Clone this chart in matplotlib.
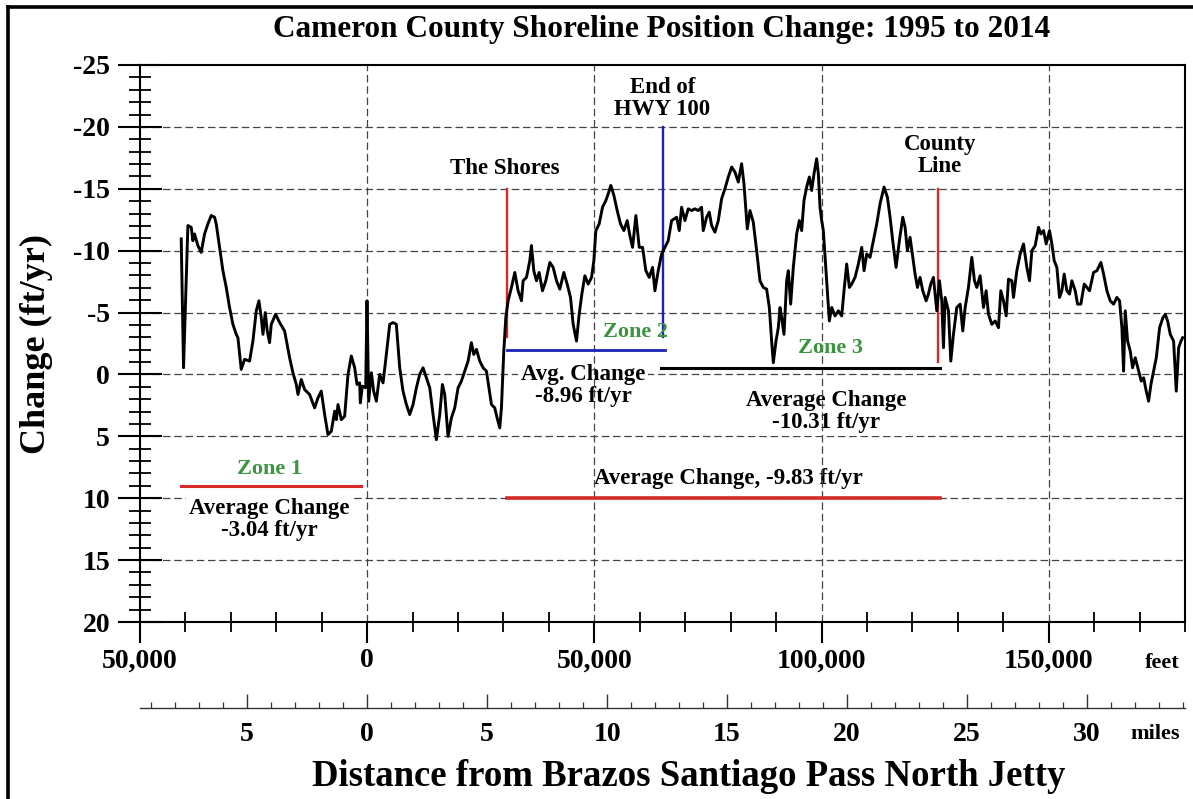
import matplotlib.pyplot as plt
from matplotlib.lines import Line2D
from matplotlib.ticker import FixedLocator, FuncFormatter, MultipleLocator

plt.rcParams["font.family"] = ["Liberation Serif", "DejaVu Serif"]
plt.rcParams["font.weight"] = "bold"
plt.rcParams["axes.unicode_minus"] = False

FT_PER_MILE = 5280

# shoreline change rate along the coast, distance from the jetty in feet
dist_ft = [
    -40930, -40420, -39460, -38730, -38360, -38000, -37260, -36530, -35790, -35060,
    -34320, -33590, -33220, -32490, -31750, -31020, -30290, -29550, -28820, -28450,
    -27720, -26980, -25880, -25150, -24410, -23830, -23310, -22940, -22430, -21990,
    -21480, -21110, -20150, -19270, -18170, -17070, -16340, -15600, -15230, -14500,
    -13770, -12670, -11560, -10830, -10100, -9360, -8630, -7890, -7160, -6790,
    -6420, -5690, -4960, -4220, -3490, -2750, -2240, -1650, -1510, -1070,
    -330, -40, 330, 920, 1430, 2020, 2750, 3490, 4220, 4960,
    5690, 6420, 7160, 7890, 8630, 9360, 10100, 10830, 11560, 12300,
    13030, 13770, 14500, 15230, 15970, 16560, 17070, 17800, 18540, 19270,
    20010, 20740, 21480, 22210, 22940, 23460, 24050, 24780, 25510, 26250,
    27350, 28080, 28600, 29180, 29550, 30070, 30510, 31020, 31750, 32490,
    33220, 33960, 34320, 35060, 35790, 36160, 36670, 37260, 37850, 38580,
    39320, 40200, 40930, 41670, 42400, 43280, 44020, 44750, 45340, 46070,
    46660, 47250, 47910, 48640, 49380, 49890, 50330, 51060, 51800, 52530,
    53050, 53630, 54300, 55030, 55760, 56500, 57230, 57820, 58410, 59140,
    59880, 60610, 61340, 62080, 62810, 63330, 64060, 64800, 65530, 66260,
    67000, 68100, 68690, 69200, 69930, 70670, 71400, 72140, 72870, 73600,
    73970, 74710, 75290, 75810, 76540, 77280, 78010, 78740, 79480, 80210,
    80950, 81680, 82410, 82930, 83660, 84250, 84980, 85720, 86450, 87190,
    87920, 88510, 89020, 89390, 89980, 90490, 90860, 91230, 91740, 92330,
    92690, 93210, 93790, 94530, 95120, 95630, 96140, 96730, 97320, 97830,
    98350, 98930, 99300, 99670, 100040, 100400, 100840, 101280, 101720, 102240,
    102970, 103710, 104440, 104950, 105540, 106130, 106640, 107380, 108110, 108850,
    109360, 109950, 110680, 111410, 112150, 112880, 113760, 114500, 115090, 115670,
    116410, 117140, 117880, 118390, 118900, 119490, 120080, 120590, 121110, 121690,
    122280, 123020, 123530, 124040, 124630, 125370, 125950, 126470, 126840, 127200,
    127940, 128450, 129040, 129770, 130510, 131090, 131610, 132340, 133080, 133660,
    134180, 134910, 135650, 136230, 136750, 137480, 138220, 138950, 139460, 140050,
    140640, 141150, 141890, 142250, 142990, 143720, 144460, 145190, 145780, 146290,
    147030, 147760, 148270, 148860, 149450, 150180, 150700, 151210, 151800, 152380,
    152900, 153410, 154000, 154590, 155100, 155840, 156350, 157080, 157820, 158410,
    158990, 159870, 160610, 161490, 162080, 162810, 163540, 164280, 165010, 165600,
    166110, 166480, 166850, 167360, 167950, 168460, 169050, 169790, 170370, 170890,
    171470, 171990, 172500, 173090, 173680, 174410, 175140, 175660, 176170, 176760,
    177490, 178080, 178600, 179110, 179480,
]
change_ftyr = [
    -10.95, -0.54, -12.03, -11.89, -10.81, -11.35, -10.41, -9.86, -11.35, -12.16,
    -12.84, -12.70, -12.16, -10.27, -8.38, -7.03, -5.41, -4.05, -3.24, -2.97,
    -0.41, -1.22, -1.08, -2.70, -5.14, -5.95, -4.59, -3.24, -5.00, -3.51,
    -2.57, -4.05, -4.86, -4.19, -3.51, -1.35, -0.14, 0.81, 1.62, 0.41,
    1.22, 1.62, 2.70, 1.89, 1.35, 3.24, 4.86, 4.59, 2.97, 3.65,
    2.43, 3.65, 3.38, 0.00, -1.49, -0.54, 0.81, 0.68, 2.30, 0.95,
    1.08, -5.95, 2.16, -0.14, 1.35, 2.16, 0.00, 0.68, -1.62, -4.05,
    -4.19, -4.05, -0.54, 1.35, 2.43, 3.24, 2.43, 1.08, 0.00, -0.54,
    0.27, 1.08, 3.24, 5.27, 3.24, 0.81, 1.62, 5.00, 3.51, 2.70,
    1.08, 0.54, -0.27, -1.08, -2.57, -1.62, -2.03, -1.08, -0.54, -0.27,
    2.43, 2.70, 3.51, 4.32, 2.70, -1.89, -4.59, -5.95, -7.03, -8.24,
    -6.76, -5.95, -7.57, -7.84, -9.19, -10.41, -8.38, -7.57, -8.24, -6.76,
    -7.57, -9.05, -8.65, -7.57, -6.89, -8.24, -7.30, -6.22, -4.05, -2.70,
    -4.86, -6.49, -7.97, -7.30, -7.84, -9.19, -11.62, -12.16, -13.51, -14.05,
    -14.59, -15.27, -14.46, -13.24, -12.16, -11.62, -12.43, -11.22, -10.27, -12.84,
    -10.27, -10.27, -8.38, -7.84, -8.65, -6.76, -8.38, -9.73, -10.27, -10.81,
    -12.43, -12.70, -11.62, -13.51, -12.43, -13.38, -13.24, -13.38, -13.24, -13.51,
    -11.62, -12.70, -13.11, -12.03, -11.49, -12.43, -14.19, -15.00, -15.95, -16.76,
    -16.35, -15.54, -17.03, -15.41, -11.76, -13.24, -12.30, -10.00, -7.57, -7.03,
    -6.89, -5.41, -2.70, -0.95, -2.70, -3.78, -5.41, -4.59, -3.24, -7.57,
    -8.38, -5.68, -8.65, -11.35, -12.43, -11.62, -14.05, -15.14, -15.95, -14.86,
    -16.22, -17.43, -16.22, -13.51, -12.43, -11.62, -9.19, -6.76, -4.32, -5.41,
    -4.73, -5.14, -4.73, -6.76, -8.92, -7.03, -7.30, -7.84, -8.92, -10.27,
    -8.38, -9.73, -9.46, -10.81, -12.16, -13.78, -15.14, -14.32, -12.70, -10.81,
    -8.65, -10.81, -12.70, -11.89, -10.00, -11.08, -9.46, -8.11, -7.03, -7.84,
    -6.76, -5.95, -6.49, -7.30, -7.84, -5.14, -7.57, -5.95, -2.16, -6.22,
    -5.14, -1.08, -3.24, -5.41, -5.68, -3.51, -5.41, -7.03, -9.46, -7.57,
    -7.03, -7.97, -5.41, -6.76, -4.86, -4.05, -4.32, -3.78, -6.76, -5.95,
    -4.73, -7.70, -7.57, -6.22, -8.38, -9.73, -10.54, -8.65, -7.57, -10.00,
    -10.41, -11.89, -11.35, -11.62, -10.54, -11.62, -10.54, -9.19, -8.65, -6.22,
    -6.76, -8.11, -6.76, -6.49, -7.57, -6.76, -5.68, -5.68, -7.30, -7.03,
    -6.76, -8.24, -8.38, -9.05, -8.11, -6.76, -5.95, -5.68, -6.22, -5.95,
    -3.78, -0.27, -5.14, -2.70, -1.89, -0.54, -1.35, -0.27, 0.54, 0.27,
    1.35, 2.16, 0.81, -0.27, -1.35, -3.78, -4.59, -4.86, -4.32, -3.24,
    -2.70, 1.35, -2.16, -2.70, -2.97,
]

# landmarks along the shore
landmark_names = ["The Shores", "End of\nHWY 100", "County\nLine"]
landmark_ft = [30800, 65000, 125700]

# zones and their average change rates (ft/yr)
zone_names = ["Zone 1", "Zone 2", "Zone 3"]
zone_start_ft = [-40900, 30800, 64700]
zone_end_ft = [-1300, 65500, 126100]
zone_avg = [-3.04, -8.96, -10.31]
overall_start_ft = 30800
overall_end_ft = 126100
overall_avg = -9.83

mile_ticks = [-5, 0, 5, 10, 15, 20, 25, 30]
mile_minor_ticks = list(range(-9, 35))

RED = "#d42a2a"
BLUE = "#1c22b4"
GREEN = "#3c9440"

W, H = 1193, 799


def fx(px):
    return px / W


def fy(py):
    return 1 - py / H


fig = plt.figure(figsize=(W / 100, H / 100), dpi=100)
ax = fig.add_axes([fx(140), fy(622), (1185 - 140) / W, (622 - 65) / H])
ax.set_xlim(-50000, 180000)
ax.set_ylim(20, -25)

# horizontal grid sits under the text boxes, vertical grid above them
for y in range(-20, 20, 5):
    ax.axhline(y, color="#444444", lw=0.9, ls=(0, (6, 3)), zorder=0.5)
for x in range(0, 180000, 50000):
    ax.axvline(x, color="#444444", lw=0.9, ls=(0, (6, 3)), zorder=1.5)

ax.plot(dist_ft, change_ftyr, color="black", lw=2.1, zorder=3)

# landmark marker lines
shores, hwy, county = landmark_ft
ax.plot([shores, shores], [-15, -3], color=RED, lw=1.7, zorder=2)
ax.plot([hwy, hwy], [-20, -3], color=BLUE, lw=1.7, zorder=2)
ax.plot([county, county], [-15, -1], color=RED, lw=1.7, zorder=2)
ax.text(30300, -16.6, landmark_names[0], ha="center", va="center", fontsize=16.5)
ax.text(hwy, -22.3, landmark_names[1], ha="center", va="center", fontsize=16.5,
        linespacing=1.1)
ax.text(126100, -17.7, landmark_names[2], ha="center", va="center", fontsize=16.5,
        linespacing=1.1)

# zone brackets
ax.plot([zone_start_ft[0], zone_end_ft[0]], [9, 9], color=RED, lw=2.2, zorder=2)
ax.plot([zone_start_ft[1], zone_end_ft[1]], [-2, -2], color=BLUE, lw=2.0, zorder=2)
ax.plot([zone_start_ft[2], zone_end_ft[2]], [-0.5, -0.5], color="black", lw=2.2, zorder=2)
ax.plot([overall_start_ft, overall_end_ft], [10, 10], color=RED, lw=2.6, zorder=2)

ax.text(-21500, 7.6, zone_names[0], ha="center", va="center", fontsize=16, color=GREEN)
ax.text(59100, -3.4, zone_names[1], ha="center", va="center", fontsize=16, color=GREEN)
ax.text(101900, -2.1, zone_names[2], ha="center", va="center", fontsize=16, color=GREEN)

box = dict(facecolor="white", edgecolor="none", pad=2)
ax.text(-21500, 11.75, f"Average Change\n{zone_avg[0]:.2f} ft/yr", ha="center",
        va="center", fontsize=16.5, linespacing=1.05, bbox=box, zorder=1)
ax.text(47500, 0.9, f"Avg. Change\n{zone_avg[1]:.2f} ft/yr", ha="center",
        va="center", fontsize=16.5, linespacing=1.05, bbox=box, zorder=1)
ax.text(101000, 3.0, f"Average Change\n{zone_avg[2]:.2f} ft/yr", ha="center",
        va="center", fontsize=16.5, linespacing=1.05, bbox=box, zorder=1)
ax.text(79400, 8.4, f"Average Change, {overall_avg:.2f} ft/yr", ha="center",
        va="center", fontsize=16.5, bbox=box, zorder=1)

# axes, ticks and labels
for side in ["left", "bottom", "top", "right"]:
    ax.spines[side].set_linewidth(1.5)

ax.xaxis.set_major_locator(MultipleLocator(50000))
ax.xaxis.set_minor_locator(MultipleLocator(10000))
ax.xaxis.set_major_formatter(FuncFormatter(lambda v, p: f"{abs(v):,.0f}"))
ax.yaxis.set_major_locator(MultipleLocator(5))
ax.yaxis.set_minor_locator(MultipleLocator(1))
ax.tick_params(axis="x", which="major", direction="out", length=15, width=1.5,
               labelsize=20, pad=4)
ax.tick_params(axis="x", which="minor", direction="inout", length=15, width=1.3)
ax.tick_params(axis="y", which="major", direction="inout", length=31, width=1.5,
               labelsize=20, pad=6)
ax.tick_params(axis="y", which="minor", direction="inout", length=16, width=1.3)

# second distance scale in miles under the feet axis
miles = ax.secondary_xaxis((622 - 708) / (622 - 65),
                           functions=(lambda x: x / FT_PER_MILE,
                                      lambda m: m * FT_PER_MILE))
miles.xaxis.set_major_locator(FixedLocator(mile_ticks))
miles.xaxis.set_minor_locator(FixedLocator(mile_minor_ticks))
miles.xaxis.set_major_formatter(FuncFormatter(lambda v, p: f"{abs(v):.0f}"))
miles.tick_params(which="major", direction="in", length=10, width=1.0,
                  color="#333333", labelsize=20, pad=10)
miles.tick_params(which="minor", direction="in", length=4.5, width=0.9,
                  color="#333333")
miles.spines["bottom"].set_linewidth(1.0)
miles.spines["bottom"].set_color("#333333")

fig.text(fx(1162), fy(663), "feet", ha="center", va="center", fontsize=16)
fig.text(fx(1155), fy(734), "miles", ha="center", va="center", fontsize=16)

fig.text(fx(662), fy(30), "Cameron County Shoreline Position Change: 1995 to 2014",
         ha="center", va="center", fontsize=22.5)
fig.text(fx(36), fy(344), "Change (ft/yr)", ha="center", va="center",
         rotation=90, fontsize=26)
fig.text(fx(689), fy(776), "Distance from Brazos Santiago Pass North Jetty",
         ha="center", va="center", fontsize=26.5)

# frame round the whole figure
fig.add_artist(Line2D([fx(8), fx(8)], [0, fy(7)], color="black", lw=2.6))
fig.add_artist(Line2D([fx(8), 1], [fy(7), fy(7)], color="black", lw=2.6))

fig.savefig("out.png", dpi=100)
